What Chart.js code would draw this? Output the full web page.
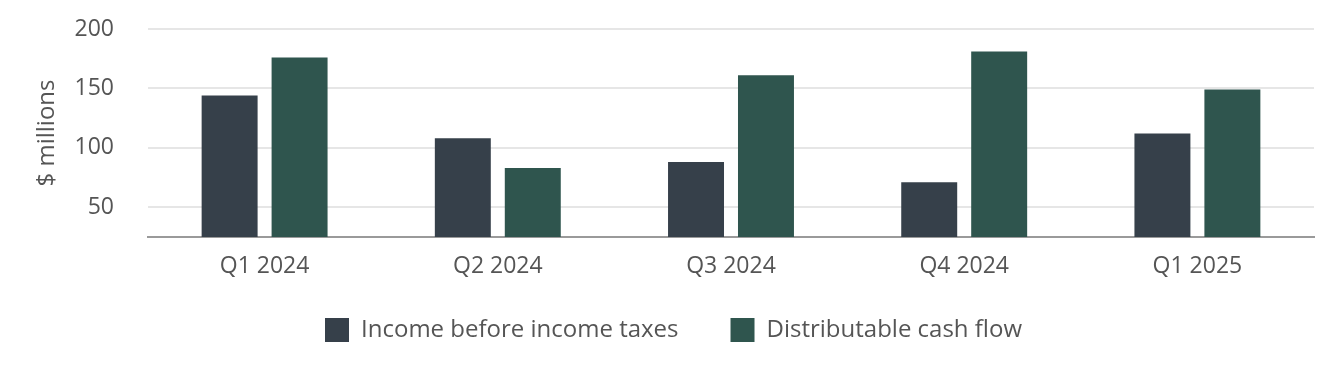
<!DOCTYPE html>
<html>
<head>
<meta charset="utf-8">
<script src="https://cdn.jsdelivr.net/npm/chart.js@4"></script>
<style>
  html, body { margin: 0; padding: 0; background: #fff; }
  #wrap { width: 1344px; height: 384px; }
</style>
</head>
<body>
<div id="wrap"><canvas id="plots" width="1344" height="384"></canvas></div>
<script>
// categorias do eixo X
var quarters = ["Q1 2024", "Q2 2024", "Q3 2024", "Q4 2024", "Q1 2025"];
// valores em $ milhões
var incomeBeforeTaxes = [144, 108, 88, 71, 112];
var distributableCash = [176, 83, 161, 181, 149];
var yTicks = [50, 100, 150, 200];

var plots = document.getElementById("plots");
var textColor = "#555555";
var fontFam = "'Open Sans'";

// sobe a legenda um pouco (o padding dela também define o espaço entre itens)
var liftLegend = {
  id: 'liftLegend',
  afterLayout: function (chart) {
    chart.legend.top -= 16;
    chart.legend.bottom -= 16;
  }
};

new Chart(plots, {
  type: 'bar',
  data: {
    labels: quarters,
    datasets: [{
      label: "Income before income taxes",
      data: incomeBeforeTaxes,
      backgroundColor: '#36404a',
      categoryPercentage: 0.6,
      barPercentage: 0.8
    }, {
      label: "Distributable cash flow",
      data: distributableCash,
      backgroundColor: '#2f554e',
      categoryPercentage: 0.6,
      barPercentage: 0.8
    }]
  },
  plugins: [liftLegend],
  options: {
    responsive: false,
    animation: false,
    layout: { padding: { top: 29, right: 30, bottom: 16, left: 33 } },
    plugins: {
      tooltip: { enabled: false },
      legend: {
        position: 'bottom',
        labels: {
          color: textColor,
          font: { family: fontFam, size: 24 },
          boxWidth: 24,
          boxHeight: 24,
          padding: 52
        }
      }
    },
    scales: {
      x: {
        grid: { display: false },
        border: { display: true, color: '#9a9a9a', width: 2 },
        ticks: { color: textColor, font: { family: fontFam, size: 23 }, padding: 8 },
        afterFit: function (scale) { scale.height = 45; }
      },
      y: {
        min: 25,
        max: 200,
        border: { display: false },
        grid: { color: '#e6e6e6', lineWidth: 2, drawTicks: false },
        afterBuildTicks: function (axis) {
          axis.ticks = yTicks.map(function (v) { return { value: v }; });
        },
        afterFit: function (scale) {
          scale.width = 115;
          scale.paddingTop = 0;
          scale.paddingBottom = 0;
        },
        ticks: { color: textColor, font: { family: fontFam, size: 23 }, padding: 34 },
        title: {
          display: true,
          text: "$ millions",
          color: textColor,
          font: { family: fontFam, size: 24 },
          padding: { top: 0, bottom: 0 }
        }
      }
    }
  }
});
</script>
</body>
</html>
